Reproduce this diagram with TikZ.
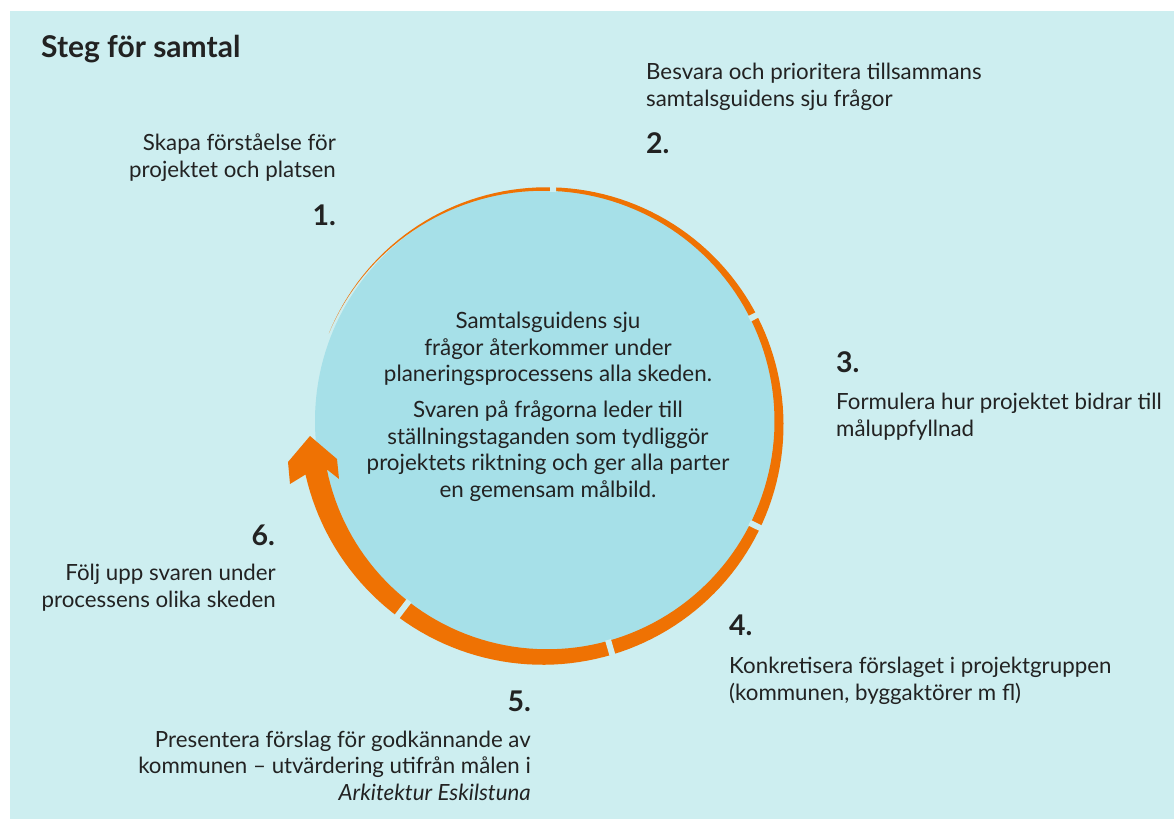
\documentclass[tikz,border=0pt]{standalone}
\usepackage{fontspec}
\setmainfont{Lato}
\definecolor{bgc}{HTML}{CDEEF0}
\definecolor{discc}{HTML}{A6E0E8}
\definecolor{orng}{HTML}{EF7203}
\definecolor{txt}{HTML}{222222}
\begin{document}
\begin{tikzpicture}[x=1pt,y=-1pt,
  lbl/.style={font=\fontsize{22.3}{26.5}\selectfont, text=txt, inner sep=0pt},
  num/.style={font=\fontsize{28.5}{30}\selectfont\bfseries, text=txt, inner sep=0pt},
  ctr/.style={font=\fontsize{22.4}{26.5}\selectfont, text=txt, inner sep=0pt, align=center},
  gapline/.style={draw=bgc, line width=6pt},
  declare function={th(\s)=157.5-325.5*\s; tk(\s)=22*\s*(0.7+0.3*\s);}
]
\useasboundingbox (0,0) rectangle (1174,819);
\fill[white] (0,0) rectangle (1174,819);
\fill[bgc] (10,11) rectangle (1174,819);
% disc
\fill[discc] (548,421) circle (233pt);
% growing ring with arrow head
\fill[orng]
  plot[domain=0:1, samples=160, variable=\s]
    ({545+(234+tk(\s)/2)*cos(th(\s))}, {423-(234+tk(\s)/2)*sin(th(\s))})
  -- (290,484) -- (288,462) -- (310,436) -- (337,459) -- (339,479)
  -- plot[domain=1:0, samples=160, variable=\s]
    ({545+(234-tk(\s)/2)*cos(th(\s))}, {423-(234-tk(\s)/2)*sin(th(\s))})
  -- cycle;
% gaps in the ring
\foreach \a in {88,27,-26,-73.8,-127.4}{
  \pgfmathsetmacro\ss{(157.5-\a)/325.5}
  \pgfmathsetmacro\tt{tk(\ss)}
  \draw[gapline] ({545+(234-\tt/2-1)*cos(\a)},{423-(234-\tt/2-1)*sin(\a)})
     -- ({545+(234+\tt/2+1)*cos(\a)},{423-(234+\tt/2+1)*sin(\a)});
}
% title
\node[font=\fontsize{30}{32}\selectfont\bfseries, text=txt, inner sep=0pt, anchor=base west] (title) at (41,57) {Steg för samtal};
% center text
\node[ctr, anchor=base] (center) at (548,497) {Samtalsguidens sju\\frågor återkommer under\\planeringsprocessens alla skeden.\\[9.5pt]Svaren på frågorna leder till\\ställningstaganden som tydliggör\\projektets riktning och ger alla parter\\en gemensam målbild.};
% step 1
\node[lbl, align=right, anchor=base east] (t1) at (336,177) {Skapa förståelse för\\projektet och platsen};
\node[num, anchor=base east] (n1) at (336,225) {1.};
% step 2
\node[lbl, align=left, anchor=base west] (t2) at (646,106) {Besvara och prioritera tillsammans\\samtalsguidens sju frågor};
\node[num, anchor=base west] (n2) at (646,153) {2.};
% step 3
\node[num, anchor=base west] (n3) at (836,372) {3.};
\node[lbl, align=left, anchor=base west] (t3) at (836,436) {Formulera hur projektet bidrar till\\måluppfyllnad};
% step 4
\node[num, anchor=base west] (n4) at (729,635) {4.};
\node[lbl, align=left, anchor=base west] (t4) at (729,700) {Konkretisera förslaget i projektgruppen\\(kommunen, byggaktörer m fl)};
% step 5
\node[num, anchor=base east] (n5) at (531,711) {5.};
\node[lbl, align=right, anchor=base east] (t5) at (531,800) {Presentera förslag för godkännande av\\kommunen – utvärdering utifrån målen i\\\textit{Arkitektur Eskilstuna}};
% step 6
\node[num, anchor=base east] (n6) at (275,545) {6.};
\node[lbl, align=right, anchor=base east] (t6) at (276,607) {Följ upp svaren under\\processens olika skeden};
\end{tikzpicture}
\end{document}
